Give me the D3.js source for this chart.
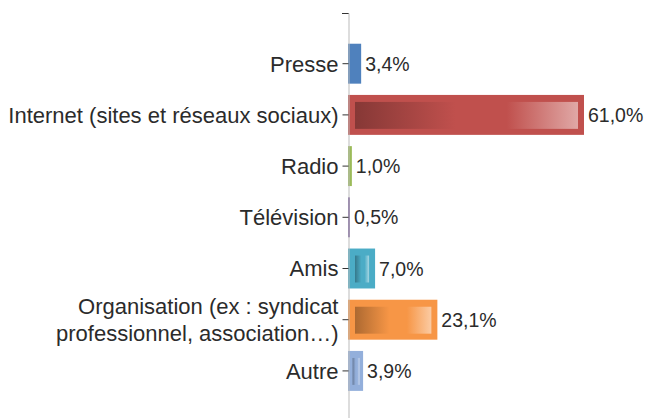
<!DOCTYPE html>
<html>
<head>
<meta charset="utf-8">
<script src="https://cdn.jsdelivr.net/npm/d3@7"></script>
<style>
  body { margin: 0; background: #fff; }
  text { font-family: "Liberation Sans", Arial, sans-serif; fill: #2b2b2b; }
</style>
</head>
<body>
<svg id="chart"></svg>
<script>
// Data
const categories = [
  'Presse',
  'Internet (sites et réseaux sociaux)',
  'Radio',
  'Télévision',
  'Amis',
  'Organisation (ex : syndicat\nprofessionnel, association…)',
  'Autre'
];
const values = [3.4, 61.0, 1.0, 0.5, 7.0, 23.1, 3.9];
const colors = ['#4f81bd', '#c0504d', '#9bbb59', '#8064a2', '#4bacc6', '#f79646', '#93afdb'];

const width = 646;
const height = 418;
const axisX = 348;

const fr = d3.formatLocale({ decimal: ',', thousands: ' ', grouping: [3], currency: ['', ' €'] });
const fmt = v => fr.format('.1f')(v) + '%';

const svg = d3.select('#chart')
  .attr('width', width)
  .attr('height', height);

const x = d3.scaleLinear()
  .domain([0, d3.max(values)])
  .range([axisX, 584]);

const y = d3.scaleBand()
  .domain(categories)
  .range([13, 421.6])
  .paddingInner(0.22)
  .paddingOuter(0.6);

const rows = categories.map((c, i) => ({ cat: c, value: values[i], color: colors[i], i }));

// gradients for the inner part of each bar
const defs = svg.append('defs');
rows.forEach(d => {
  const base = d3.color(d.color);
  const g = defs.append('linearGradient')
    .attr('id', 'grad' + d.i)
    .attr('x1', 0).attr('x2', 1).attr('y1', 0).attr('y2', 0);
  g.append('stop').attr('offset', 0).attr('stop-color', base.darker(1));
  g.append('stop').attr('offset', 0.45).attr('stop-color', base);
  g.append('stop').attr('offset', 0.68).attr('stop-color', base);
  g.append('stop').attr('offset', 1).attr('stop-color', d3.interpolateRgb(base, '#fff')(0.5));
});

const bar = svg.selectAll('.bar')
  .data(rows)
  .enter()
    .append('g')
    .attr('class', 'bar');

bar.append('rect')
  .attr('x', x(0))
  .attr('y', d => y(d.cat))
  .attr('width', d => x(d.value) - x(0))
  .attr('height', y.bandwidth())
  .attr('fill', d => d.color);

// inner gradient, only where the bar is wide enough to show it
bar.filter(d => x(d.value) - x(0) > 14)
  .append('rect')
  .attr('x', d => x(0) + Math.min(7, (x(d.value) - x(0)) * 0.3))
  .attr('y', d => y(d.cat) + 7)
  .attr('width', d => {
    const w = x(d.value) - x(0);
    return Math.max(0, w - 2 * Math.min(7, w * 0.3) + 1);
  })
  .attr('height', y.bandwidth() - 13)
  .attr('fill', d => 'url(#grad' + d.i + ')');

bar.append('text')
  .attr('x', d => x(d.value) + 4)
  .attr('y', d => y(d.cat) + y.bandwidth() / 2)
  .attr('dy', '0.36em')
  .style('font-size', '19.5px')
  .text(d => fmt(d.value));

// category axis
const axis = svg.append('g')
  .attr('transform', 'translate(' + (axisX + 0.5) + ',0)')
  .call(d3.axisLeft(y).tickSize(6).tickSizeOuter(6).tickPadding(4).tickFormat(''));

axis.select('.domain').attr('stroke', '#bbb');
axis.selectAll('.tick line').attr('stroke', '#333');

axis.selectAll('.tick').each(function(d) {
  const lines = d.split('\n');
  const t = d3.select(this).append('text')
    .attr('x', -10)
    .attr('text-anchor', 'end')
    .style('font-size', '22px');
  lines.forEach((l, k) => {
    t.append('tspan')
      .attr('x', -10)
      .attr('dy', k === 0 ? (0.36 - (lines.length - 1) * 0.6) + 'em' : '1.2em')
      .text(l);
  });
});

// top outer tick drawn darker like the reference
svg.append('line')
  .attr('x1', axisX - 6).attr('x2', axisX + 0.5)
  .attr('y1', y.range()[0] + 0.5).attr('y2', y.range()[0] + 0.5)
  .attr('stroke', '#333');
</script>
</body>
</html>
